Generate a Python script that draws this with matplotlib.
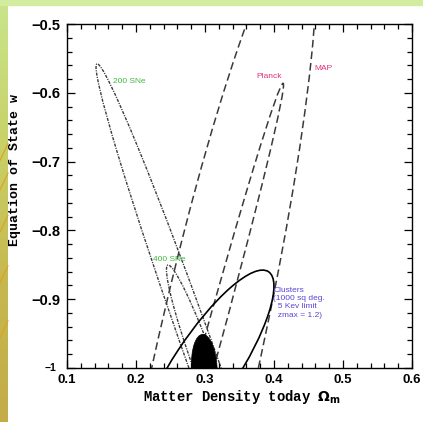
import numpy as np
import matplotlib
matplotlib.use('Agg')
import matplotlib.pyplot as plt
from matplotlib.patches import Ellipse, Rectangle
from matplotlib.colors import LinearSegmentedColormap

# fiducial model, all contours centred on it
om_fid, w_fid = 0.3, -1.0

# dashed / dotted contours: full width, full height (data units), angle in degrees
sne_names = ['200 SNe', '400 SNe']
sne_width = [0.938, 0.318]
sne_height = [0.044, 0.032]
sne_angle = [109.5, 109.8]

cmb_names = ['Planck', 'MAP']
cmb_width = [0.858, 1.328]
cmb_height = [0.0246, 0.151]
cmb_angle = [74.7, 77.5]

clu_width, clu_height, clu_angle = 0.335, 0.0936, 56.7
comb_width, comb_height, comb_angle = 0.037, 0.098, 3.0

# labels
lab_text = ['200 SNe', '400 SNe', 'Planck', 'MAP',
            'Clusters\n(1000 sq deg.\n  5 Kev limit\n  zmax = 1.2)']
lab_x = [0.167, 0.225, 0.375, 0.458, 0.399]
lab_y = [-0.583, -0.842, -0.577, -0.565, -0.905]
lab_col = ['#3fb83f', '#3fb83f', '#e0307a', '#e0307a', '#5a46d8']

xticks = [0.1, 0.2, 0.3, 0.4, 0.5, 0.6]
yticks = [-1.0, -0.9, -0.8, -0.7, -0.6, -0.5]
ytick_labels = ['', '\u22120.9', '\u22120.8', '\u22120.7', '\u22120.6', '\u22120.5']

W, H = 423, 422
fig = plt.figure(figsize=(W / 100, H / 100), dpi=100)
fig.patch.set_facecolor('white')

# slide background strips
bg = fig.add_axes([0, 0, 1, 1])
bg.set_xlim(0, 1)
bg.set_ylim(0, 1)
bg.axis('off')
grad = np.linspace(0, 1, 200)[:, None]
cm = LinearSegmentedColormap.from_list('slide', ['#c9e58c', '#c8d268', '#c6b84e', '#c4ac48'])
bg.imshow(grad, extent=[0, 8 / W, 0, 1], aspect='auto', cmap=cm, origin='upper', zorder=0)
bg.add_patch(Rectangle((0, 1 - 5 / H), 1, 5 / H, color='#d3eda0', zorder=1))
for yy in [0.62, 0.55, 0.45, 0.33, 0.2]:
    bg.plot([0, 8 / W], [yy, yy + 0.04], color='#e0a020', lw=0.8, zorder=2)

ax = fig.add_axes([67 / W, 1 - 368 / H, 345 / W, 344 / H])

for wd, ht, an in zip(sne_width, sne_height, sne_angle):
    ax.add_patch(Ellipse((om_fid, w_fid), wd, ht, angle=an, fill=False,
                         ec='#3a3a3a', lw=1.0, ls=(0, (2.2, 0.9, 0.8, 0.9))))
for wd, ht, an in zip(cmb_width, cmb_height, cmb_angle):
    ax.add_patch(Ellipse((om_fid, w_fid), wd, ht, angle=an, fill=False,
                         ec='#3a3a3a', lw=1.1, ls=(0, (5, 2.6))))
ax.add_patch(Ellipse((om_fid, w_fid), clu_width, clu_height, angle=clu_angle,
                     fill=False, ec='black', lw=1.2))
ax.add_patch(Ellipse((om_fid - 0.001, w_fid), comb_width, comb_height, angle=comb_angle,
                     fc='black', ec='black', lw=0.5))

for t, x, y, c in zip(lab_text, lab_x, lab_y, lab_col):
    ax.text(x, y, t, color=c, fontsize=6, family='Liberation Sans',
            ha='left', va='center', linespacing=1.25)

ax.set_xlim(0.1, 0.6)
ax.set_ylim(-1.0, -0.5)
ax.set_xticks(xticks)
ax.set_xticklabels([f'{v:.1f}' for v in xticks])
ax.set_yticks(yticks)
ax.set_yticklabels(ytick_labels)
ax.set_xticks(np.arange(0.1, 0.601, 0.02), minor=True)
ax.set_yticks(np.arange(-1.0, -0.499, 0.02), minor=True)
ax.tick_params(which='both', direction='in', top=True, right=True, width=0.9)
ax.tick_params(which='major', length=6)
ax.tick_params(which='minor', length=3.5)
ax.tick_params(axis='y', which='major', pad=5)
ax.tick_params(axis='x', which='major', pad=4)
for lbl in ax.get_xticklabels():
    lbl.set_family('Liberation Sans')
    lbl.set_fontsize(9.5)
    lbl.set_fontweight('bold')
for lbl in ax.get_yticklabels():
    lbl.set_family('Liberation Sans')
    lbl.set_fontsize(10.5)
    lbl.set_fontweight('bold')
for s in ax.spines.values():
    s.set_linewidth(1.0)

ax.text(-0.03, 0.0, '\u22121', transform=ax.transAxes, fontsize=7.5,
        family='Liberation Sans', fontweight='bold', ha='right', va='center')

plt.rcParams['mathtext.fontset'] = 'dejavusans'
ax.text(0.506, -0.084, r'Matter Density today $\mathbf{\Omega_m}$', transform=ax.transAxes,
        fontsize=10, family='Liberation Mono', fontweight='bold', ha='center', va='center')
ax.text(-0.151, 0.576, 'Equation of State w', transform=ax.transAxes, rotation=90,
        fontsize=9.5, family='Liberation Mono', fontweight='bold', ha='center', va='center')

fig.savefig('out.png', dpi=100)
